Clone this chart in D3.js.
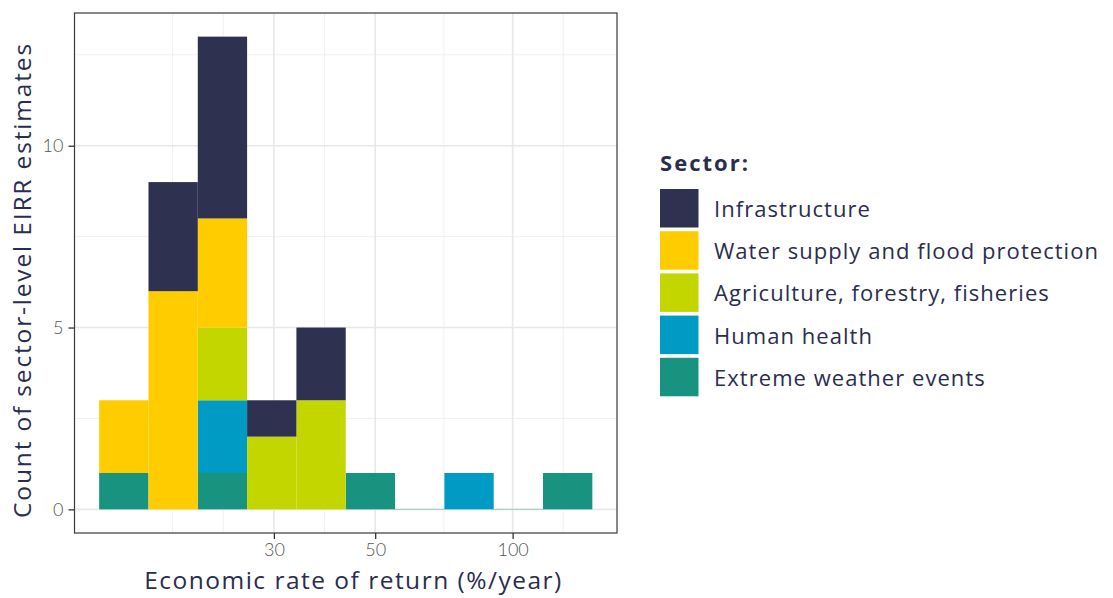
<!DOCTYPE html>
<html>
<head>
<meta charset="utf-8">
<script src="https://cdn.jsdelivr.net/npm/d3@7"></script>
<style>
  html, body { margin: 0; padding: 0; background: #fff; }
  svg { display: block; font-family: "Open Sans", Lato, "Noto Sans", sans-serif; }
</style>
</head>
<body>
<svg id="chart" width="1113" height="598"></svg>
<script>
// Histogram bin edges (economic rate of return, %/year), log-spaced
const binEdges = [12.43, 15.94, 20.44, 26.21, 33.61, 43.10, 55.27, 70.88, 90.89, 116.56, 149.48];

// Sector names in legend order (first entry is stacked on top)
const sectors = [
  "Infrastructure",
  "Water supply and flood protection",
  "Agriculture, forestry, fisheries",
  "Human health",
  "Extreme weather events"
];
const sectorColors = ["#2e3150", "#ffcc00", "#c4d600", "#009bc4", "#17937f"];

// Counts of EIRR estimates per bin, one array per sector
const infrastructure = [0, 3, 5, 1, 2, 0, 0, 0, 0, 0];
const waterSupply    = [2, 6, 3, 0, 0, 0, 0, 0, 0, 0];
const agriculture    = [0, 0, 2, 2, 3, 0, 0, 0, 0, 0];
const humanHealth    = [0, 0, 2, 0, 0, 0, 0, 1, 0, 0];
const extremeWeather = [1, 0, 1, 0, 0, 1, 0, 0, 0, 1];

const xTicks = [30, 50, 100];
const yTicks = [0, 5, 10];
const yMinor = [2.5, 7.5, 12.5];

const seriesBySector = {
  "Infrastructure": infrastructure,
  "Water supply and flood protection": waterSupply,
  "Agriculture, forestry, fisheries": agriculture,
  "Human health": humanHealth,
  "Extreme weather events": extremeWeather
};

const textColor = "#2b2d50";
const svg = d3.select("#chart");

// grow a text's font size (up to maxSize) and then its letter spacing
// until it spans the given width; returns the settings used
function fitWidth(sel, target, baseSize, maxSize) {
  const node = sel.node();
  sel.style("font-size", baseSize + "px").style("letter-spacing", "0px");
  const w0 = node.getComputedTextLength();
  const size = Math.min(maxSize, baseSize * target / w0);
  sel.style("font-size", size + "px");
  const w1 = node.getComputedTextLength();
  const n = node.textContent.length;
  const ls = Math.max(0, (target - w1) / Math.max(1, n - 1));
  sel.style("letter-spacing", ls + "px");
  return { size, ls };
}

const panel = { left: 74.5, right: 617, top: 13, bottom: 533 };

// log x scale with 5% expansion of the binned range
const lo = Math.log10(binEdges[0]), hi = Math.log10(binEdges[binEdges.length - 1]);
const padX = (hi - lo) * 0.05;
const x = d3.scaleLog()
  .domain([Math.pow(10, lo - padX), Math.pow(10, hi + padX)])
  .range([panel.left, panel.right]);

const yMax = 13;
const y = d3.scaleLinear()
  .domain([-yMax * 0.05, yMax * 1.05])
  .range([panel.bottom, panel.top]);

// minor x grid: midpoints between major breaks in log space, extended one step
const lt = xTicks.map(Math.log10);
const step = lt[1] - lt[0];
const ext = [lt[0] - step, ...lt, lt[lt.length - 1] + step];
const xMinor = [];
for (let i = 0; i < ext.length - 1; i++) xMinor.push(Math.pow(10, (ext[i] + ext[i + 1]) / 2));
xMinor.push(Math.pow(10, ext[0]));

const grid = svg.append("g");
grid.selectAll(".xminor").data(xMinor.filter(v => x(v) > panel.left && x(v) < panel.right))
  .join("line")
  .attr("x1", d => x(d)).attr("x2", d => x(d))
  .attr("y1", panel.top).attr("y2", panel.bottom)
  .attr("stroke", "#f1f1f1").attr("stroke-width", 1);
grid.selectAll(".yminor").data(yMinor)
  .join("line")
  .attr("x1", panel.left).attr("x2", panel.right)
  .attr("y1", d => y(d)).attr("y2", d => y(d))
  .attr("stroke", "#f1f1f1").attr("stroke-width", 1);
grid.selectAll(".xmajor").data(xTicks)
  .join("line")
  .attr("x1", d => x(d)).attr("x2", d => x(d))
  .attr("y1", panel.top).attr("y2", panel.bottom)
  .attr("stroke", "#e8e8e8").attr("stroke-width", 1.6);
grid.selectAll(".ymajor").data(yTicks)
  .join("line")
  .attr("x1", panel.left).attr("x2", panel.right)
  .attr("y1", d => y(d)).attr("y2", d => y(d))
  .attr("stroke", "#e8e8e8").attr("stroke-width", 1.6);

// stacked bins: last legend entry sits at the bottom
const rows = binEdges.slice(0, -1).map((e, i) => {
  const r = { x0: e, x1: binEdges[i + 1] };
  sectors.forEach(s => { r[s] = seriesBySector[s][i]; });
  return r;
});
const stackKeys = sectors.slice().reverse();
const stacked = d3.stack().keys(stackKeys)(rows);
const color = d3.scaleOrdinal().domain(sectors).range(sectorColors);

// faint baseline where a bin is empty
svg.append("g").selectAll("line")
  .data(rows.filter(r => sectors.every(s => r[s] === 0)))
  .join("line")
  .attr("x1", d => x(d.x0)).attr("x2", d => x(d.x1))
  .attr("y1", y(0)).attr("y2", y(0))
  .attr("stroke", color("Extreme weather events")).attr("stroke-opacity", 0.35)
  .attr("stroke-width", 1);

svg.append("g").selectAll("g")
  .data(stacked)
  .join("g")
  .attr("fill", d => color(d.key))
  .selectAll("rect")
  .data(d => d.filter(p => p[1] - p[0] > 0))
  .join("rect")
  .attr("x", d => x(d.data.x0))
  .attr("width", d => x(d.data.x1) - x(d.data.x0))
  .attr("y", d => y(d[1]))
  .attr("height", d => y(d[0]) - y(d[1]));

// panel border
svg.append("rect")
  .attr("x", panel.left).attr("y", panel.top)
  .attr("width", panel.right - panel.left).attr("height", panel.bottom - panel.top)
  .attr("fill", "none").attr("stroke", "#3a3a3a").attr("stroke-width", 1.2);

// axes
const xAxis = svg.append("g")
  .attr("transform", `translate(0,${panel.bottom})`)
  .call(d3.axisBottom(x).tickValues(xTicks).tickFormat(d3.format("d")).tickSize(6).tickPadding(4));
const yAxis = svg.append("g")
  .attr("transform", `translate(${panel.left},0)`)
  .call(d3.axisLeft(y).tickValues(yTicks).tickFormat(d3.format("d")).tickSize(6).tickPadding(5));
[xAxis, yAxis].forEach(a => {
  a.select(".domain").remove();
  a.selectAll(".tick line").attr("stroke", "#333").attr("stroke-width", 1.3);
  a.selectAll(".tick text")
    .attr("fill", "#555")
    .style("font-family", "Lato, 'Open Sans', sans-serif")
    .style("font-weight", 300)
    .style("font-size", "18px");
});

// axis titles
const xTitle = svg.append("text")
  .attr("x", 353.5)
  .attr("y", 589)
  .attr("text-anchor", "middle")
  .attr("fill", textColor)
  .text("Economic rate of return (%/year)");
fitWidth(xTitle, 417, 22, 24.5);

const yTitle = svg.append("text")
  .attr("transform", "translate(31,280) rotate(-90)")
  .attr("text-anchor", "middle")
  .attr("fill", textColor)
  .text("Count of sector-level EIRR estimates");
fitWidth(yTitle, 474, 22, 24.5);

// legend
const legend = svg.append("g").attr("transform", "translate(660,0)");
const legTitle = legend.append("text")
  .attr("x", 0).attr("y", 171)
  .attr("fill", textColor)
  .style("font-weight", 700)
  .text("Sector:");
fitWidth(legTitle, 88, 20, 22);
const item = legend.selectAll(".item")
  .data(sectors)
  .join("g")
  .attr("transform", (d, i) => `translate(0,${189 + i * 42.2})`);
item.append("rect")
  .attr("width", 38.5).attr("height", 38.5)
  .attr("fill", d => color(d));
const labels = item.append("text")
  .attr("x", 54).attr("y", 28)
  .attr("fill", textColor)
  .text(d => d);
// same size and spacing for every label, set by the longest one
const fit = fitWidth(labels.filter(d => d === "Water supply and flood protection"), 384, 20, 22);
labels.style("font-size", fit.size + "px").style("letter-spacing", fit.ls + "px");
</script>
</body>
</html>
